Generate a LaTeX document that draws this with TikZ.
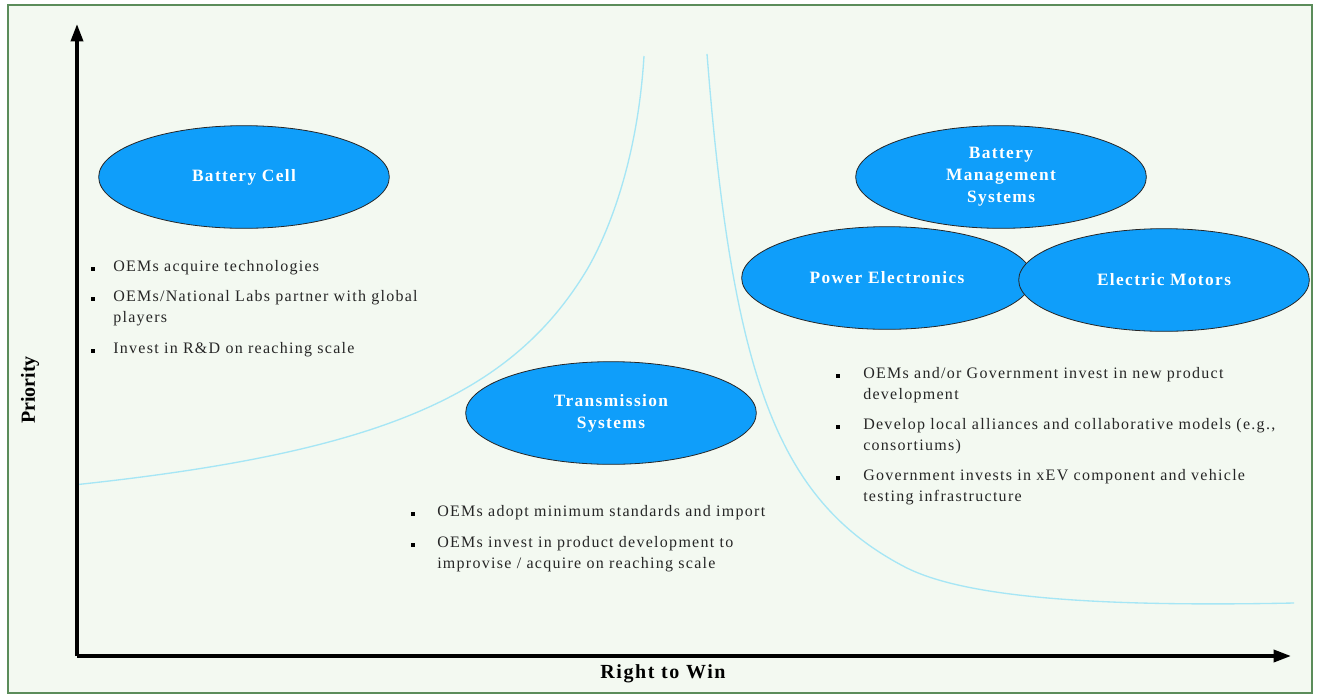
\documentclass[tikz,border=0pt]{standalone}
\usepackage{fontspec}
\setmainfont{Liberation Serif}
\usetikzlibrary{shapes.geometric,arrows.meta}
\definecolor{bgc}{HTML}{F3F9F1}
\definecolor{framec}{HTML}{5B8C5A}
\definecolor{ellc}{HTML}{0F9EFA}
\definecolor{curvec}{HTML}{A6E6F5}
\begin{document}
\begin{tikzpicture}[x=0.75pt,y=-0.75pt,
  ell/.style={ellipse, draw=black!85, line width=0.6pt, fill=ellc, inner sep=0pt,
    text=white, font=\fontsize{13}{16.5}\selectfont\bfseries\addfontfeature{LetterSpace=8}, align=center,
    minimum width=218pt, minimum height=77pt},
  sq/.style={rectangle, fill=black, inner sep=0pt, minimum size=2.4pt},
  btxt/.style={anchor=north west, align=left, inner sep=0pt,
    font=\fontsize{12}{15.75}\selectfont\addfontfeature{LetterSpace=8}, text=black!85},
  axis/.style={line width=2.6pt, -{Triangle[length=13pt,width=9pt]}},
  curve/.style={draw=curvec, line width=1pt},
  axlab/.style={font=\fontsize{15}{17}\selectfont\bfseries, inner sep=0pt}]
\useasboundingbox (0,0) rectangle (1317,697);
\fill[white] (0,0) rectangle (1317,697);
\draw[framec, line width=1.6pt, fill=bgc] (8,5) rectangle (1312,693);

% curves
\draw[curve] plot[domain=77:585, samples=120] (\x, {557.5 - 498/((760-\x)/100)})
  .. controls (603,243.6) and (637,170) .. (644,56);
\draw[curve] plot[domain=707:905, samples=80] (\x, {695.8 - 319/((\x-657.3)/100)})
  .. controls (965,598) and (1100,607) .. (1294,603);

% axes
\coordinate (o) at (77,656);
\coordinate (ytop) at (77,24);
\coordinate (xend) at (1291,656);
\draw[axis] (o) -- (ytop);
\draw[axis] (o) -- (xend);
\node[axlab, font=\fontsize{15}{17}\selectfont\bfseries\addfontfeature{LetterSpace=8}] (xl) at (663,674) {Right to Win};
\node[axlab, rotate=90] (yl) at (30,390) {Priority};

% ellipses
\node[ell] (bc) at (244,177) {Battery Cell};
\node[ell] (ts) at (611,413) {Transmission\\Systems};
\node[ell] (bms) at (1001,177) {Battery\\Management\\Systems};
\node[ell] (pe) at (887,278) {Power Electronics};
\node[ell] (em) at (1164,280) {Electric Motors};

% left bullets
\node[sq] (lb1) at (93,269) {};
\node[btxt] (lt1) at (113,260) {OEMs acquire technologies};
\node[sq] (lb2) at (93,299) {};
\node[btxt] (lt2) at (113,290) {OEMs/National Labs partner with global\\players};
\node[sq] (lb3) at (93,351) {};
\node[btxt] (lt3) at (113,342) {Invest in R\&D on reaching scale};

% middle bullets
\node[sq] (mb1) at (413,514) {};
\node[btxt] (mt1) at (437,505) {OEMs adopt minimum standards and import};
\node[sq] (mb2) at (413,545) {};
\node[btxt] (mt2) at (437,536) {OEMs invest in product development to\\improvise / acquire on reaching scale};

% right bullets
\node[sq] (rb1) at (838,376) {};
\node[btxt] (rt1) at (863,367) {OEMs and/or Government invest in new product\\development};
\node[sq] (rb2) at (838,427) {};
\node[btxt] (rt2) at (863,418) {Develop local alliances and collaborative models (e.g.,\\consortiums)};
\node[sq] (rb3) at (838,478) {};
\node[btxt] (rt3) at (863,469) {Government invests in xEV component and vehicle\\testing infrastructure};
\end{tikzpicture}
\end{document}
